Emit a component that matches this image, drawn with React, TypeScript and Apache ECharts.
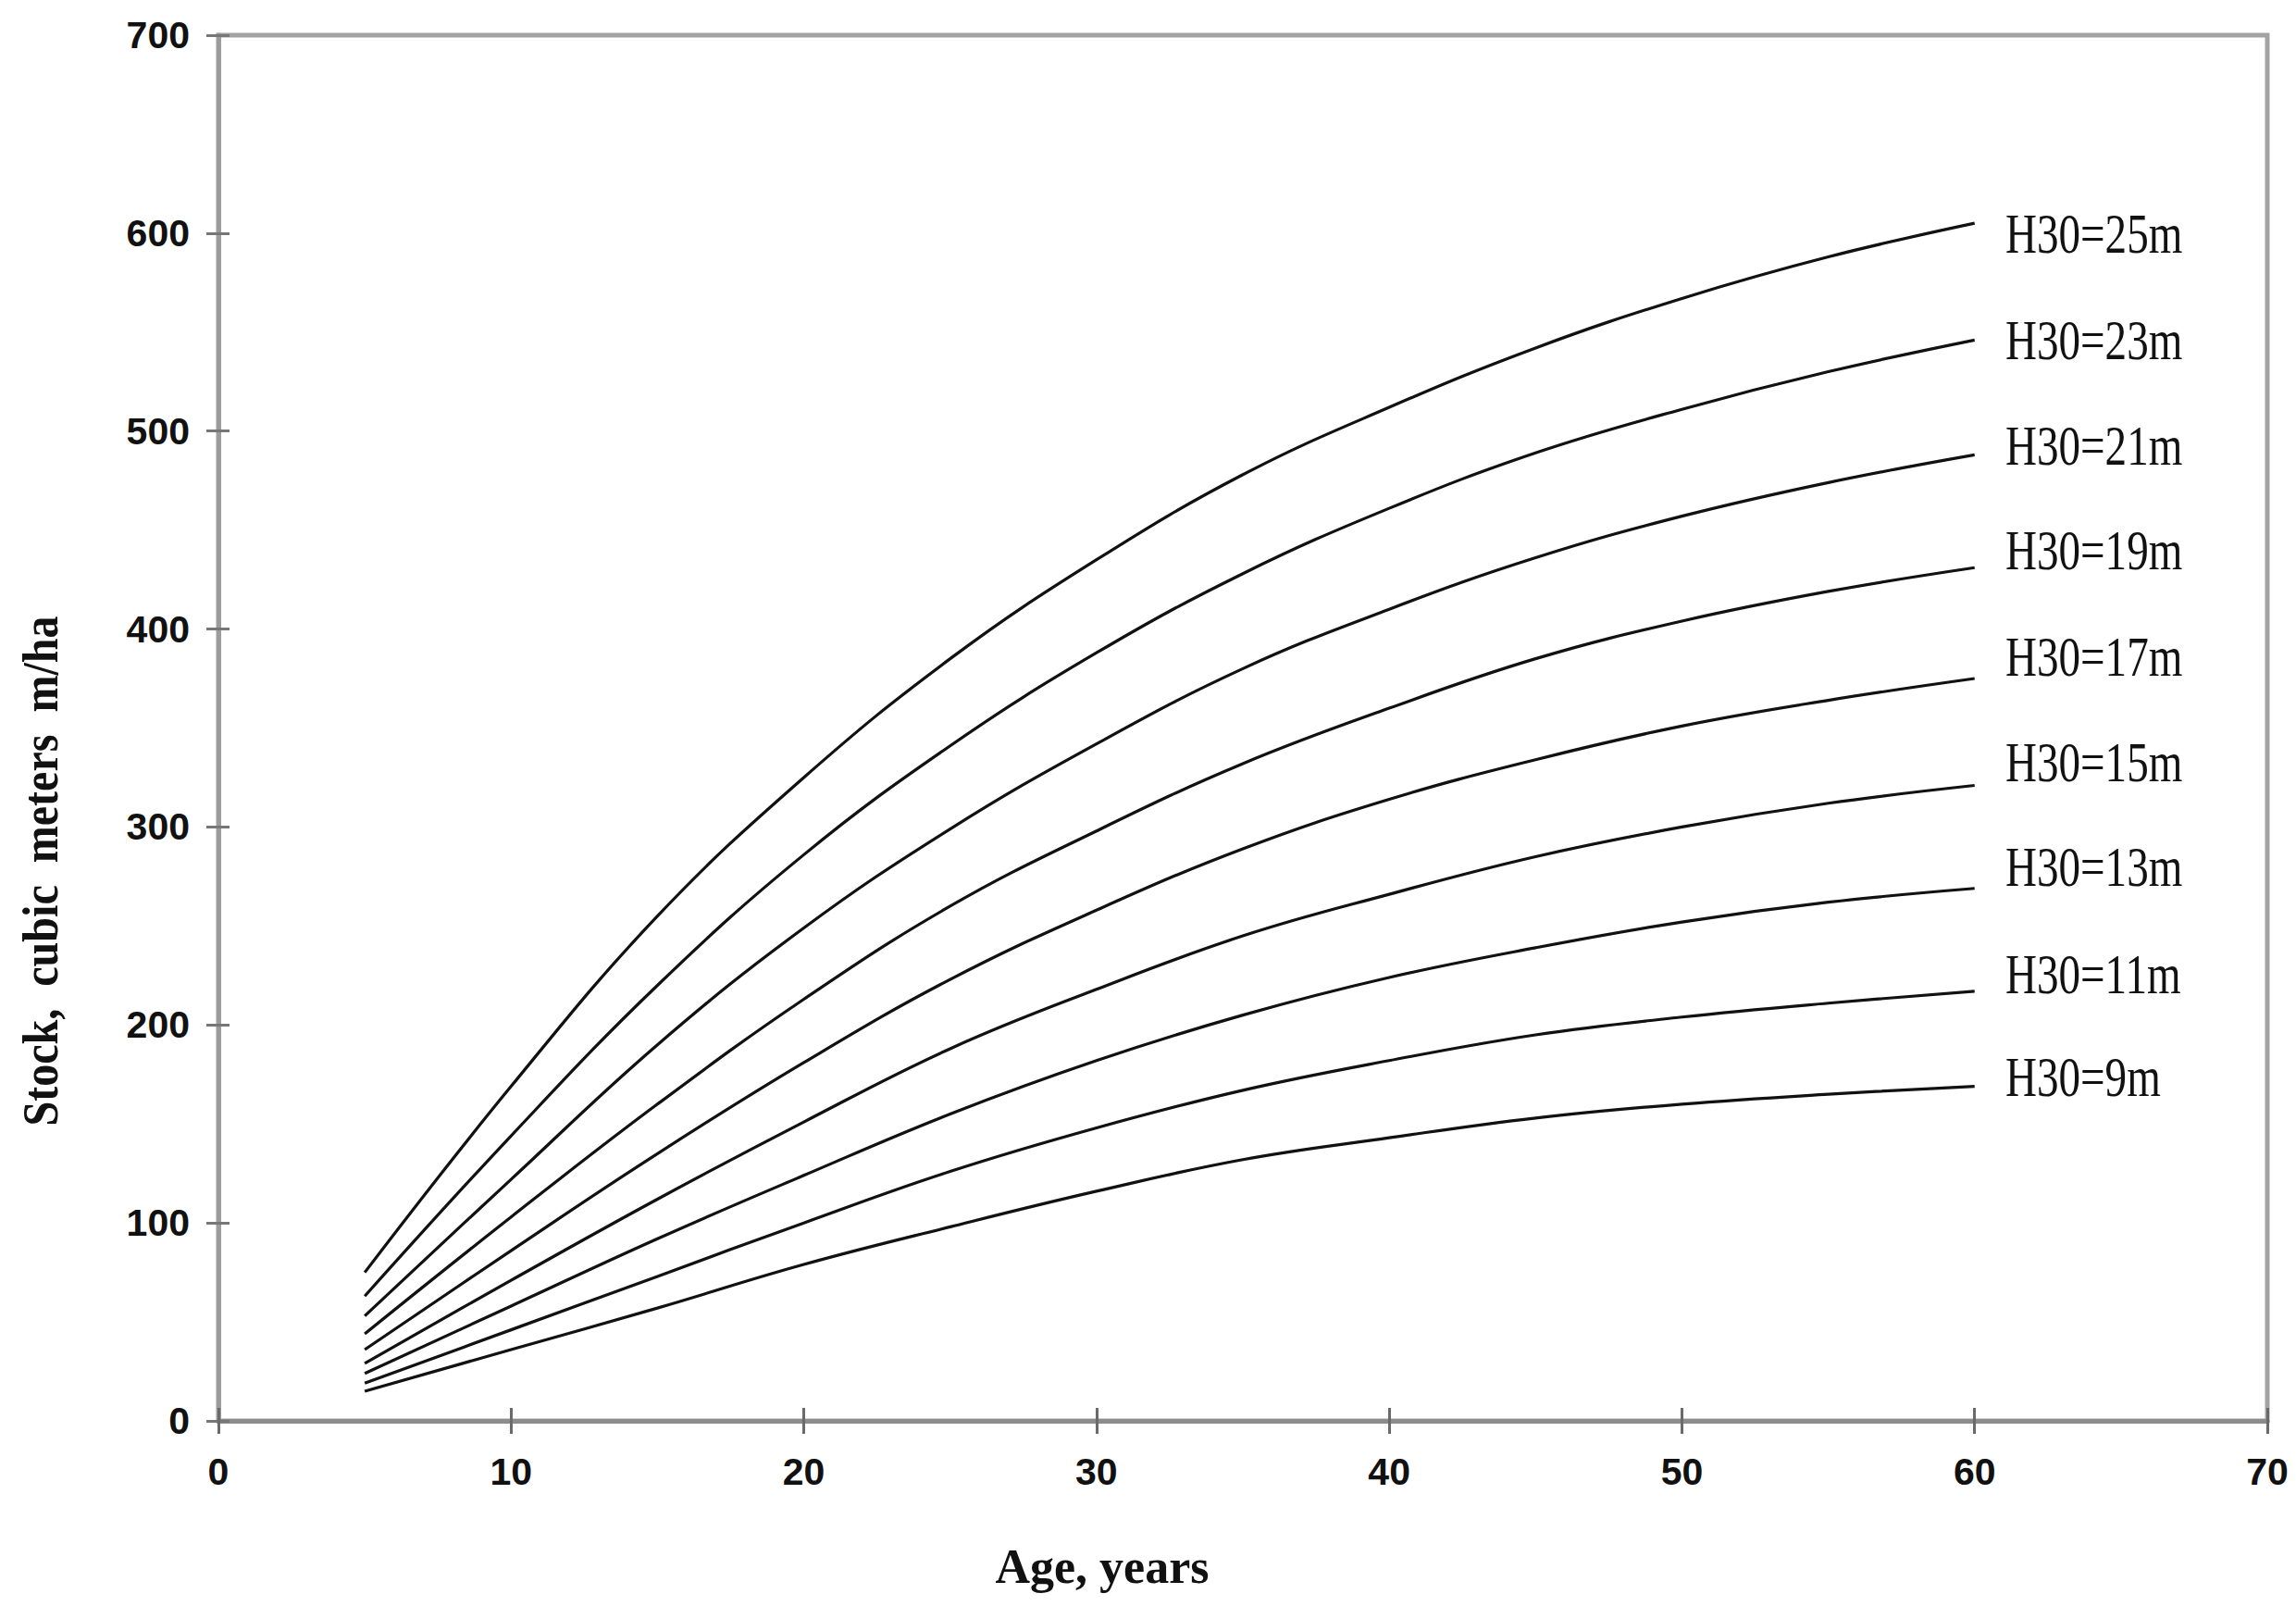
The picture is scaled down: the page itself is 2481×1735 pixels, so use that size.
import React, { useEffect, useRef } from "react";
import * as echarts from "echarts";

// Age (years)
const ages = [5, 10, 15, 20, 25, 30, 35, 40, 45, 50, 55, 60];

// Stock, m3/ha for each site index curve
const h25 = [75, 169, 255, 325, 385, 435, 478, 512, 542, 567, 588, 605];
const h23 = [63, 144, 220, 286, 341, 388, 428, 461, 489, 511, 530, 546];
const h21 = [53, 122, 190, 249, 299, 342, 380, 410, 436, 457, 474, 488];
const h19 = [44, 103, 160, 213, 260, 298, 332, 360, 385, 404, 419, 431];
const h17 = [36, 86, 135, 181, 223, 258, 289, 314, 334, 351, 364, 375];
const h15 = [29, 71, 112, 151, 188, 218, 245, 266, 285, 300, 312, 321];
const h13 = [24, 58, 92, 124, 155, 182, 205, 224, 239, 252, 262, 269];
const h11 = [19, 46, 73, 100, 126, 148, 167, 182, 195, 204, 211, 217];
const h9 = [15, 36, 57, 79, 98, 116, 132, 143, 153, 160, 165, 169];

const curves = [h25, h23, h21, h19, h17, h15, h13, h11, h9];
const curveNames = [
  "H30=25m",
  "H30=23m",
  "H30=21m",
  "H30=19m",
  "H30=17m",
  "H30=15m",
  "H30=13m",
  "H30=11m",
  "H30=9m",
];
// label anchor positions (in data units) for the curve annotations
const labelAge = 61.05;
const labelValues = [600, 546, 493, 440, 386, 333, 280, 226, 174];

const xTitle = "Age, years";
const yTitle = "Stock,  cubic  meters  m/ha";

const tickFont = {
  fontFamily: "'Liberation Sans Narrow', 'Liberation Sans', Arial, sans-serif",
  fontWeight: "bold" as const,
  fontSize: 41,
  color: "#111",
};

export default function App() {
  const ref = useRef<HTMLDivElement>(null);

  useEffect(() => {
    if (!ref.current) return;
    const chart = echarts.init(ref.current, undefined, { renderer: "svg" });

    const axisCommonX = { type: "value" as const, min: 0, max: 70, interval: 10 };
    const axisCommonY = { type: "value" as const, min: 0, max: 700, interval: 100 };

    chart.setOption({
      animation: false,
      backgroundColor: "#fff",
      grid: {
        left: 236,
        right: 31,
        top: 38,
        bottom: 200,
        show: true,
        borderColor: "#a3a3a3",
        borderWidth: 5,
        backgroundColor: "transparent",
      },
      xAxis: [
        {
          ...axisCommonX,
          position: "bottom",
          axisLine: { show: true, lineStyle: { color: "#8c8c8c", width: 5 } },
          axisTick: { show: true, inside: false, length: 14, lineStyle: { color: "#6a6a6a", width: 3 } },
          axisLabel: { ...tickFont, margin: 34 },
          splitLine: { show: false },
        },
        {
          ...axisCommonX,
          position: "bottom",
          offset: 0,
          axisLine: { show: false },
          axisTick: { show: true, inside: true, length: 14, lineStyle: { color: "#6a6a6a", width: 3 } },
          axisLabel: { show: false },
          splitLine: { show: false },
        },
      ],
      yAxis: [
        {
          ...axisCommonY,
          position: "left",
          axisLine: { show: true, lineStyle: { color: "#9c9c9c", width: 5 } },
          axisTick: { show: true, inside: false, length: 13, lineStyle: { color: "#777", width: 3 } },
          axisLabel: { ...tickFont, margin: 31 },
          splitLine: { show: false },
        },
        {
          ...axisCommonY,
          position: "left",
          offset: 0,
          axisLine: { show: false },
          axisTick: { show: true, inside: true, length: 12, lineStyle: { color: "#777", width: 3 } },
          axisLabel: { show: false },
          splitLine: { show: false },
        },
      ],
      series: curves.map((vals, i) => ({
        name: curveNames[i],
        type: "line",
        xAxisIndex: 0,
        yAxisIndex: 0,
        smooth: 0.4,
        showSymbol: false,
        lineStyle: { color: "#111", width: 3.2 },
        data: ages.map((a, j) => [a, vals[j]]),
      })),
    });

    const labelGraphics = curveNames.map((name, i) => {
      const p = chart.convertToPixel({ gridIndex: 0 }, [labelAge, labelValues[i]]) as number[];
      return {
        type: "text",
        x: p[0],
        y: p[1],
        scaleX: 0.76,
        style: {
          text: name,
          fontFamily: "'Liberation Serif', 'Times New Roman', serif",
          fontSize: 62,
          fill: "#111",
          align: "left",
          verticalAlign: "middle",
        },
      };
    });

    chart.setOption({
      graphic: [
        ...labelGraphics,
        {
          type: "text",
          x: 1191,
          y: 1692,
          style: {
            text: xTitle,
            fontFamily: "'Liberation Serif', 'Times New Roman', serif",
            fontWeight: "bold",
            fontSize: 52,
            fill: "#111",
            align: "center",
            verticalAlign: "middle",
          },
        },
        {
          type: "text",
          x: 44,
          y: 941,
          rotation: Math.PI / 2,
          scaleX: 0.89,
          style: {
            text: yTitle,
            fontFamily: "'Liberation Serif', 'Times New Roman', serif",
            fontWeight: "bold",
            fontSize: 54,
            fill: "#111",
            align: "center",
            verticalAlign: "middle",
          },
        },
      ],
    });

    return () => chart.dispose();
  }, []);

  return (
    <div
      ref={ref}
      style={{ position: "absolute", left: 0, top: 0, width: 2481, height: 1735, background: "#fff" }}
    />
  );
}
